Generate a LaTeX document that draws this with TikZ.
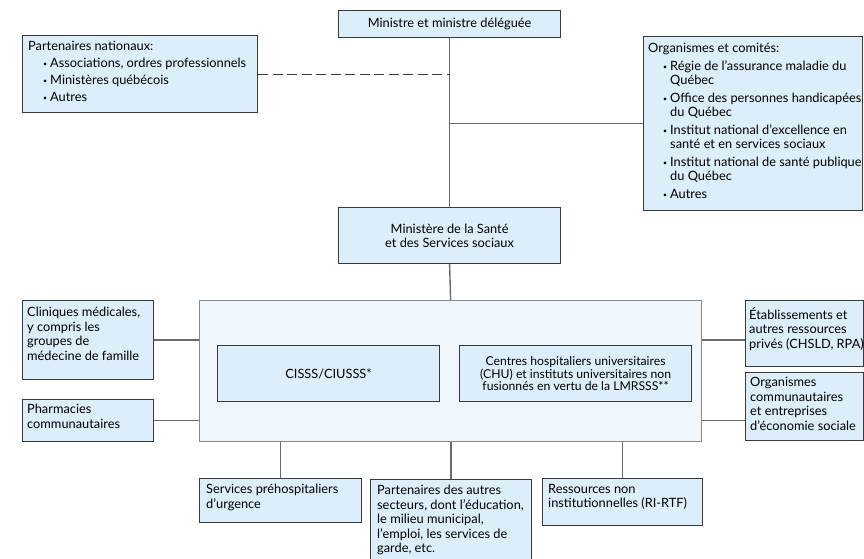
\documentclass[tikz,border=0pt]{standalone}
\usepackage{fontspec}
\setmainfont{Lato}
\definecolor{boxfill}{HTML}{DCEEF9}
\definecolor{bigfill}{HTML}{EFF7FC}
\definecolor{boxline}{HTML}{3A3A3A}
\definecolor{linkgray}{HTML}{6A6A6A}
\newcommand\bul{\raisebox{.2ex}{\fontsize{7}{7}\selectfont\textbullet}}
\newcommand\itm{\hspace*{15pt}\makebox[7pt][l]{\bul}}
\newcommand\cnt{\hspace*{22pt}}
\tikzset{
  box/.style={draw=boxline, fill=boxfill, line width=1.2pt, inner sep=0pt, anchor=north west,
    align=center, font=\fontsize{12.8}{14.5}\selectfont},
  txt/.style={anchor=north west, align=left, inner sep=0pt, font=\fontsize{12.8}{14.5}\selectfont},
  link/.style={draw=linkgray, line width=1.4pt},
}
\begin{document}
\begin{tikzpicture}[x=1pt,y=1pt]
      \useasboundingbox (0,0) rectangle (864,-559);
      \node[box, minimum width=222pt, minimum height=27pt] (min) at (338,-10) {Ministre et ministre déléguée};
      \node[box, minimum width=235pt, minimum height=77pt] (part) at (22,-35) {};
      \node[txt, font=\fontsize{12.8}{17}\selectfont] (partT) at ([shift={(6,-6)}]part.north west)
        {Partenaires nationaux:\\ \itm Associations, ordres professionnels\\ \itm Ministères québécois\\ \itm Autres};
      \node[box, minimum width=219pt, minimum height=174pt] (org) at (643,-36) {};
      \node[txt, font=\fontsize{12.8}{14}\selectfont] (orgT) at ([shift={(5,-7)}]org.north west)
        {Organismes et comités:\\[4pt] \itm Régie de l’assurance maladie du\\ \cnt Québec\\[4pt]
         \itm Office des personnes handicapées\\ \cnt du Québec\\[4pt]
         \itm Institut national d’excellence en\\ \cnt santé et en services sociaux\\[4pt]
         \itm Institut national de santé publique\\ \cnt du Québec\\[4pt] \itm Autres};
      \node[box, minimum width=222pt, minimum height=56pt] (msss) at (338,-207) {Ministère de la Santé\\ et des Services sociaux};

      \node[box, fill=bigfill, draw=linkgray!80, minimum width=502pt, minimum height=141pt] (big) at (199,-300) {};
      \node[box, minimum width=222pt, minimum height=56pt] (cisss) at (217,-345) {CISSS/CIUSSS*};
      \node[box, minimum width=232pt, minimum height=56pt, font=\fontsize{12.2}{12.5}\selectfont] (chu) at (459,-345)
        {Centres hospitaliers universitaires\\ (CHU) et instituts universitaires non\\ fusionnés en vertu de la LMRSSS**};

      \node[box, minimum width=131pt, minimum height=79pt] (cli) at (22,-300) {};
      \node[txt] (cliT) at ([shift={(5,-7)}]cli.north west) {Cliniques médicales,\\ y compris les\\ groupes de\\ médecine de famille};
      \node[box, minimum width=131pt, minimum height=42pt] (pha) at (22,-399) {};
      \node[txt] (phaT) at ([shift={(5,-5)}]pha.north west) {Pharmacies\\ communautaires};
      \node[box, minimum width=118pt, minimum height=66pt] (eta) at (745,-300) {};
      \node[txt] (etaT) at ([shift={(4,-7)}]eta.north west) {Établissements et\\ autres ressources\\ privés (CHSLD, RPA)};
      \node[box, minimum width=118pt, minimum height=68pt] (occ) at (745,-372) {};
      \node[txt] (occT) at ([shift={(5,-5)}]occ.north west) {Organismes\\ communautaires\\ et entreprises\\ d’économie sociale};

      \node[box, minimum width=162pt, minimum height=44pt] (spu) at (199,-478) {};
      \node[txt] (spuT) at ([shift={(7,-6)}]spu.north west) {Services préhospitaliers\\ d’urgence};
      \node[box, minimum width=161pt, minimum height=85pt] (pas) at (370,-479) {};
      \node[txt] (pasT) at ([shift={(7,-6)}]pas.north west) {Partenaires des autres\\ secteurs, dont l’éducation,\\ le milieu municipal,\\ l’emploi, les services de\\ garde, etc.};
      \node[box, minimum width=160pt, minimum height=47pt] (rni) at (542,-478) {};
      \node[txt] (rniT) at ([shift={(6,-6)}]rni.north west) {Ressources non\\ institutionnelles (RI-RTF)};

      \draw[link] (min.south) -- (msss.north);
      \draw[link] (msss.south) -- (big.north);
      \draw[draw=boxline, line width=1pt, dash pattern=on 10pt off 4.5pt] (part.east) -- (part.east -| min.south);
      \draw[link] (org.west) -- (org.west -| min.south);
      \draw[link] (cli.east) -- (cli.east -| big.west);
      \draw[link] (pha.east) -- (pha.east -| big.west);
      \draw[link] (cli.east -| big.east) -- (cli.east -| eta.west);
      \draw[link] (pha.east -| big.east) -- (pha.east -| occ.west);
      \draw[link] (spu.north) -- (spu.north |- big.south);
      \draw[link] (pas.north) -- (pas.north |- big.south);
      \draw[link] (rni.north) -- (rni.north |- big.south);
    \end{tikzpicture}
\end{document}
